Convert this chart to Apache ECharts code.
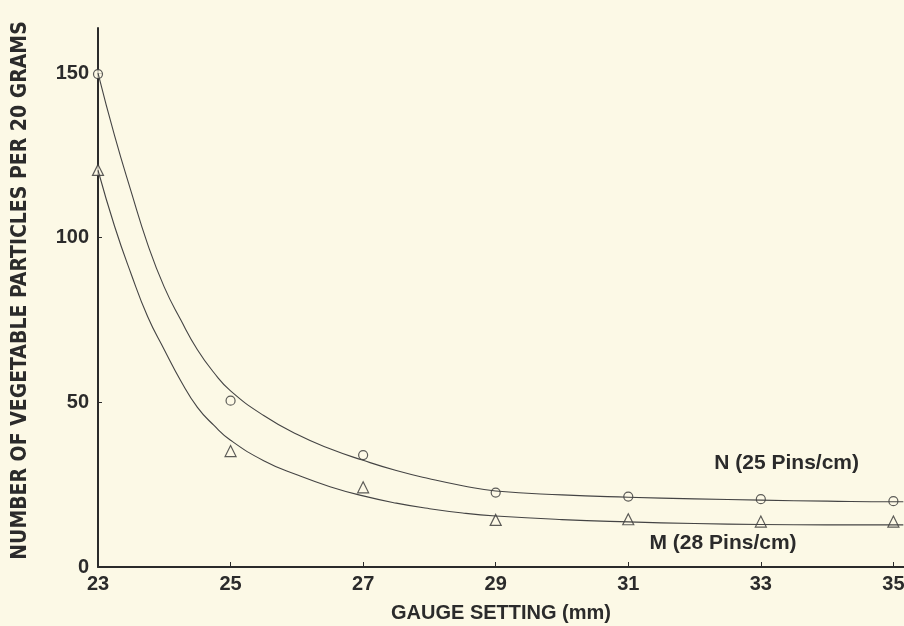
<!DOCTYPE html>
<html>
<head>
<meta charset="utf-8">
<script src="https://cdn.jsdelivr.net/npm/echarts@6/dist/echarts.min.js"></script>
<style>
    html, body { margin: 0; padding: 0; background: #fcf9e6; }
    #chart { width: 904px; height: 626px; }
</style>
</head>
<body>
<div id="chart"></div>
<script>
// measured points
const gaugeSettings = [23, 25, 27, 29, 31, 33, 35];
const countsN = [149.7, 50.5, 34.0, 22.6, 21.4, 20.6, 20.0];
const countsM = [120.6, 35.2, 24.2, 14.3, 14.5, 13.8, 13.8];

// fitted curves
const curveX = [23, 23.25, 23.5, 23.75, 24, 24.25, 24.5, 24.75, 25, 25.5, 26, 26.5, 27, 27.5, 28, 28.5, 29, 30, 31, 32, 33, 34, 35, 35.15];
const curveN = [150, 131, 114, 98, 85, 75, 66, 59, 53.5, 46, 40.3, 35.9, 32.4, 29.3, 26.8, 24.7, 23.1, 21.9, 21.2, 20.7, 20.3, 20.0, 19.8, 19.8];
const curveM = [120.5, 103.5, 89, 76, 66, 56.5, 48.5, 43, 38.5, 32.3, 28, 24.4, 21.6, 19.4, 17.7, 16.4, 15.5, 14.4, 13.7, 13.2, 12.9, 12.8, 12.8, 12.8];

const xTicks = [23, 25, 27, 29, 31, 33, 35];
const yTicks = [0, 50, 100, 150];

const ink = "#2b2b2b";
const paper = "#fcf9e6";
const font = "Liberation Sans, Arial, sans-serif";

const chart = echarts.init(document.getElementById("chart"));

const pairs = (xs, ys) => xs.map((x, i) => [x, ys[i]]);

const curveLabel = text => ({
    show: true,
    formatter: text,
    color: ink,
    fontFamily: font,
    fontWeight: "bold",
    fontSize: 21
});

chart.setOption({
    backgroundColor: paper,
    animation: false,
    grid: { left: 98, right: 0, top: 28, bottom: 59, outerBoundsMode: "none", containLabel: false },
    xAxis: {
        type: "value",
        min: 23,
        max: 35.16,
        name: "GAUGE SETTING (mm)",
        nameLocation: "middle",
        nameGap: 36,
        nameTextStyle: { color: ink, fontFamily: font, fontWeight: "bold", fontSize: 20 },
        axisLine: { lineStyle: { color: ink, width: 2 } },
        axisTick: { inside: true, length: 5, customValues: xTicks, lineStyle: { color: ink } },
        axisLabel: { customValues: xTicks, color: ink, fontFamily: font, fontWeight: "bold", fontSize: 20, margin: 7 },
        splitLine: { show: false }
    },
    yAxis: {
        type: "value",
        min: 0,
        max: 163.7,
        name: "NUMBER OF VEGETABLE PARTICLES PER 20 GRAMS",
        nameLocation: "middle",
        nameGap: 67,
        nameTextStyle: {
            color: ink,
            fontFamily: "Liberation Sans Narrow, DejaVu Sans Condensed, sans-serif",
            fontWeight: "bold",
            fontSize: 21,
            padding: [0, 0, 0, 14]
        },
        axisLine: { show: true, lineStyle: { color: ink, width: 2 } },
        axisTick: { show: true, inside: true, length: 4, customValues: yTicks, lineStyle: { color: ink } },
        axisLabel: { customValues: yTicks, color: ink, fontFamily: font, fontWeight: "bold", fontSize: 20, margin: 9 },
        splitLine: { show: false }
    },
    series: [
        {
            name: "N curve",
            type: "line",
            smooth: true,
            showSymbol: false,
            clip: false,
            lineStyle: { color: "#444", width: 1.1 },
            data: pairs(curveX, curveN),
            markPoint: {
                symbol: "circle",
                symbolSize: 1,
                itemStyle: { color: "transparent" },
                label: curveLabel("N (25 Pins/cm)"),
                data: [{ coord: [33.39, 31.6] }]
            }
        },
        {
            name: "M curve",
            type: "line",
            smooth: true,
            showSymbol: false,
            clip: false,
            lineStyle: { color: "#444", width: 1.1 },
            data: pairs(curveX, curveM),
            markPoint: {
                symbol: "circle",
                symbolSize: 1,
                itemStyle: { color: "transparent" },
                label: curveLabel("M (28 Pins/cm)"),
                data: [{ coord: [32.43, 7.3] }]
            }
        },
        {
            name: "N (25 Pins/cm)",
            type: "scatter",
            symbol: "circle",
            symbolSize: 9,
            clip: false,
            itemStyle: { color: paper, borderColor: "#333", borderWidth: 1.2 },
            data: pairs(gaugeSettings, countsN)
        },
        {
            name: "M (28 Pins/cm)",
            type: "scatter",
            symbol: "triangle",
            symbolSize: 11,
            clip: false,
            itemStyle: { color: paper, borderColor: "#333", borderWidth: 1.2 },
            data: pairs(gaugeSettings, countsM)
        }
    ]
});
</script>
</body>
</html>
